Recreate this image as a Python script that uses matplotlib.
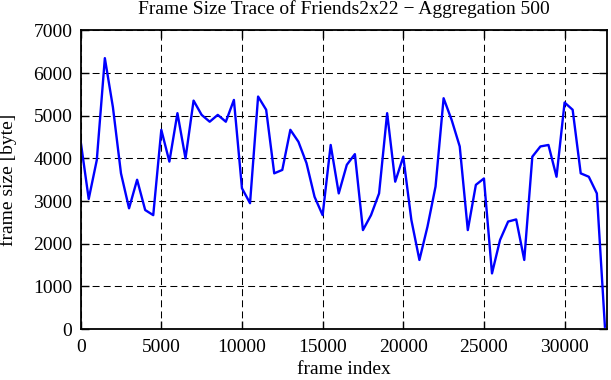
#!/usr/bin/env python3
# -*- coding: utf-8 -*-
"""
Frame size trace, aggregated over 500 frames.
"""

import numpy as np
import matplotlib
matplotlib.use('Agg')
import matplotlib.pyplot as plt
plt.close('all')

### ---------------------------------------------------------------------------
### data (one value every 500 frames)
aggregation = 500
frame_index = np.arange(0, 33000, aggregation)
frame_size = [4400, 3050, 3960, 6350, 5200, 3650, 2830, 3500, 2790, 2670,
              4670, 3925, 5060, 4000, 5355, 5020, 4860, 5020, 4860, 5370,
              3300, 2950, 5450, 5140, 3650, 3730, 4670, 4390, 3890, 3100,
              2670, 4315, 3180, 3850, 4100, 2320, 2670, 3180, 5060, 3455,
              4040, 2560, 1620, 2400, 3340, 5410, 4900, 4280, 2320, 3380,
              3530, 1305, 2090, 2520, 2570, 1620, 4040, 4280, 4315, 3570,
              5310, 5140, 3650, 3570, 3180, 55]

x_ticks = [0, 5000, 10000, 15000, 20000, 25000, 30000]
y_ticks = [0, 1000, 2000, 3000, 4000, 5000, 6000, 7000]
x_max = 32650

settings = dict(
    figsize = [6.11, 3.80],
    dpi = 100,
    textsize = 14,
    line_color = '#0000ff',
    line_width = 1.7,
    )

plt.rcParams['font.family'] = ['Liberation Serif', 'DejaVu Serif']
plt.rcParams['lines.scale_dashes'] = False

### ---------------------------------------------------------------------------
### Create Figure
fig = plt.figure(figsize=settings['figsize'], dpi=settings['dpi'])
ax = fig.add_axes([0.132, 0.134, 0.862, 0.786])

ax.plot(frame_index, frame_size[:len(frame_index)],
        color=settings['line_color'], linewidth=settings['line_width'],
        zorder=5)

### ---------------------------------------------------------------------------
### Adapt plot optics (gnuplot look)
ax.set_xlim(0, x_max)
ax.set_ylim(0, 7000)
ax.set_xticks(x_ticks)
ax.set_yticks(y_ticks)
ax.grid(True, color='black', linewidth=0.75, linestyle=(0, (5, 3)))
ax.set_axisbelow(True)

for sp in ax.spines.values():
    sp.set_linewidth(1.3)
    sp.set_zorder(6)

ax.tick_params(axis='both', which='major', direction='in', length=5.5,
               width=1.0, top=True, right=True,
               labelsize=settings['textsize'])
ax.tick_params(axis='x', pad=7)
ax.tick_params(axis='y', pad=6)

ax.set_title('Frame Size Trace of Friends2x22 \u2212 Aggregation 500',
             fontsize=settings['textsize'], pad=12)
ax.set_xlabel('frame index', fontsize=settings['textsize'], labelpad=4)
ax.set_ylabel('frame size [byte]', fontsize=settings['textsize'], labelpad=12)

fig.savefig('out.png', dpi=settings['dpi'])
